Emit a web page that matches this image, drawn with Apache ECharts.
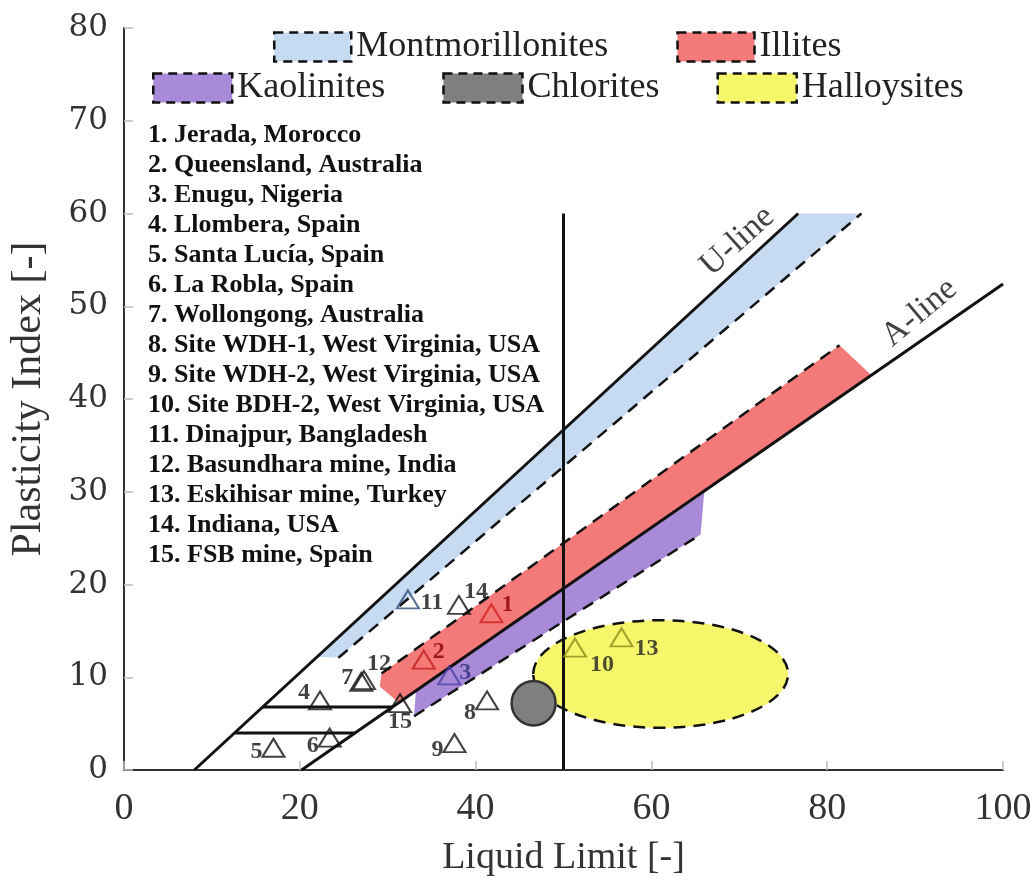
<!DOCTYPE html>
<html>
<head>
<meta charset="utf-8">
<script src="https://cdn.jsdelivr.net/npm/echarts@6/dist/echarts.min.js"></script>
<style>
  html, body { margin: 0; padding: 0; background: #fff; }
  #main { width: 1035px; height: 882px; }
</style>
</head>
<body>
<div id="main"></div>
<script>
// plasticity chart: sites plotted against clay mineral zones

var siteNames = [
  '1. Jerada, Morocco',
  '2. Queensland, Australia',
  '3. Enugu, Nigeria',
  '4. Llombera, Spain',
  '5. Santa Lucía, Spain',
  '6. La Robla, Spain',
  '7. Wollongong, Australia',
  '8. Site WDH-1, West Virginia, USA',
  '9. Site WDH-2, West Virginia, USA',
  '10. Site BDH-2, West Virginia, USA',
  '11. Dinajpur, Bangladesh',
  '12. Basundhara mine, India',
  '13. Eskihisar mine, Turkey',
  '14. Indiana, USA',
  '15. FSB mine, Spain'
]
var siteIds = ['1', '2', '3', '4', '5', '6', '7', '8', '9', '10', '11', '12', '13', '14', '15']
var siteLL = [41.8, 34.1, 37.0, 22.3, 17.0, 23.4, 27.0, 41.3, 37.6, 51.3, 32.3, 27.3, 56.6, 38.1, 31.4]
var sitePI = [16.9, 11.9, 10.2, 7.5, 2.4, 3.5, 9.5, 7.5, 2.9, 13.2, 18.4, 9.7, 14.3, 17.8, 7.2]

// reference lines [LL, PI]
var uLine = [[8, 0], [76.7, 60]]
var aLine = [[20.2, 0], [100, 52.4]]
var ll50Line = [[50, 0], [50, 60]]
var pi7Line = [[15.8, 6.8], [30.6, 6.8]]
var pi4Line = [[12.6, 4.0], [26.3, 4.0]]

// mineral zones
var montArea = [[22.0, 12.2], [76.7, 60], [83.9, 60], [24.4, 12.1]]
var montDash = [[24.4, 12.1], [83.9, 60]]
var illiteArea = [[29.3, 10.4], [81.4, 45.8], [85.0, 42.6], [31.2, 7.3], [29.1, 9.0]]
var illiteDash = [[29.3, 10.4], [81.4, 45.8]]
var kaolArea = [[33.2, 8.4], [66.0, 29.9], [65.6, 25.4], [33.0, 5.8]]
var kaolDash = [[33.0, 5.8], [65.6, 25.4]]
var chloriteZone = [46.6, 7.2, 2.5, 2.4]      // centre LL, centre PI, half width, half height
var halloysiteZone = [61.05, 10.35, 14.5, 5.8]

var lineLabels = ['U-line', 'A-line']
var lineLabelPos = [[69.8, 57.0], [90.5, 49.3]]

var xTicks = [0, 20, 40, 60, 80, 100]
var yTicks = [0, 10, 20, 30, 40, 50, 60, 70, 80]

// styling
var serif = '"Liberation Serif", "Times New Roman", serif'
var zoneColors = {
  Montmorillonites: '#c6dbf1',
  Illites: '#f47a7a',
  Kaolinites: '#a98ad8',
  Chlorites: '#7f7f7f',
  Halloysites: '#f6f66b'
}
var triColors = ['#d42020', '#c41e1e', '#4a3fa8', '#111', '#111', '#111', '#111', '#111', '#111',
  '#8c8c1a', '#2e4e7e', '#111', '#8c8c1a', '#111', '#111']
var numColors = ['#8b0000', '#8b0000', '#30307a', '#111', '#111', '#111', '#111', '#111', '#111',
  '#222', '#111', '#111', '#222', '#111', '#111']
var numOffset = [[16, -8], [15, -8], [16, -3], [-16, -8], [-17, 4], [-17, 8], [-14, -4], [-17, 12],
  [-17, 7], [27, 17], [24, 3], [15, -16], [25, 11], [17, -13], [0, 19]]

function areaSeries(name, pts, z) {
  return {
    name: name,
    type: 'custom',
    z: z,
    silent: true,
    data: pts,
    renderItem: function (params, api) {
      if (params.dataIndex !== 0) return null
      var points = pts.map(function (p) { return api.coord(p) })
      return { type: 'polygon', shape: { points: points }, style: { fill: zoneColors[name] } }
    }
  }
}

function ovalSeries(name, zone, z, stroke, dash) {
  return {
    name: name,
    type: 'custom',
    z: z,
    silent: true,
    data: [[zone[0], zone[1]]],
    renderItem: function (params, api) {
      var c = api.coord([zone[0], zone[1]])
      var rx = api.size([zone[2], 0])[0]
      var ry = api.size([0, zone[3]])[1]
      return {
        type: 'ellipse',
        shape: { cx: c[0], cy: c[1], rx: rx, ry: ry },
        style: { fill: zoneColors[name], stroke: stroke, lineWidth: 2.5, lineDash: dash }
      }
    }
  }
}

function lineSeries(pts, dashed, z) {
  return {
    type: 'line',
    z: z,
    silent: true,
    symbol: 'none',
    data: pts,
    lineStyle: { color: '#111', width: dashed ? 2.5 : 3, type: dashed ? [12, 8] : 'solid' }
  }
}

var siteData = siteLL.map(function (x, i) {
  return {
    name: siteIds[i],
    value: [x, sitePI[i]],
    itemStyle: { color: 'rgba(0,0,0,0)', borderColor: triColors[i], borderWidth: 2 },
    label: { offset: numOffset[i], color: numColors[i] }
  }
})

function legendItem(name) {
  return {
    name: name,
    icon: 'rect',
    itemStyle: { color: zoneColors[name], borderColor: '#111', borderWidth: 2.5, borderType: [9, 6] }
  }
}

var legendText = { fontFamily: serif, fontSize: 36, color: '#222' }

var option = {
  animation: false,
  backgroundColor: '#fff',
  grid: { left: 122, right: 32, top: 28, bottom: 112 },
  legend: [{
    left: 273, top: 29, padding: 0, itemGap: 68, itemWidth: 77, itemHeight: 29,
    selectedMode: false, textStyle: legendText,
    data: [legendItem('Montmorillonites'), legendItem('Illites')]
  }, {
    left: 152, top: 70, padding: 0, itemGap: 57, itemWidth: 79, itemHeight: 29,
    selectedMode: false, textStyle: legendText,
    data: [legendItem('Kaolinites'), legendItem('Chlorites'), legendItem('Halloysites')]
  }],
  xAxis: [{
    type: 'value', min: 0, max: 100, interval: 20,
    name: 'Liquid Limit [-]', nameLocation: 'middle', nameGap: 69,
    nameTextStyle: { fontFamily: serif, fontSize: 38, color: '#333' },
    axisLine: { lineStyle: { color: '#bdbdbd', width: 1.5 } },
    axisTick: { inside: true, length: 9, lineStyle: { color: '#bdbdbd', width: 1.5 } },
    axisLabel: { margin: 20, fontFamily: serif, fontSize: 38, color: '#333',
      formatter: function (v) { return xTicks.indexOf(v) >= 0 ? String(v) : '' } },
    splitLine: { show: false }
  }, {
    type: 'value', min: 0, max: 100, position: 'top',
    axisLine: { lineStyle: { color: '#333', width: 2 } },
    axisTick: { show: false }, axisLabel: { show: false }, splitLine: { show: false }
  }],
  yAxis: [{
    type: 'value', min: 0, max: 80, interval: 10,
    name: 'Plasticity Index [-]', nameLocation: 'middle', nameGap: 74,
    nameTextStyle: { fontFamily: serif, fontSize: 42, color: '#333' },
    axisLine: { show: true, lineStyle: { color: '#bdbdbd', width: 1.5 } },
    axisTick: { show: true, inside: true, length: 9, lineStyle: { color: '#bdbdbd', width: 1.5 } },
    axisLabel: { margin: 16, fontFamily: '"DejaVu Serif", serif', fontSize: 31, color: '#333',
      formatter: function (v) { return yTicks.indexOf(v) >= 0 ? String(v) : '' } },
    splitLine: { show: false }
  }, {
    type: 'value', min: 0, max: 80, position: 'right',
    axisLine: { show: true, lineStyle: { color: '#333', width: 2 } },
    axisTick: { show: false }, axisLabel: { show: false }, splitLine: { show: false }
  }],
  graphic: [{
    type: 'text', left: 148, top: 120, z: 10,
    style: {
      text: siteNames.join('\n'),
      font: 'bold 26px ' + serif,
      lineHeight: 30,
      fill: '#111'
    }
  }],
  series: [
    areaSeries('Montmorillonites', montArea, 1),
    areaSeries('Illites', illiteArea, 1),
    areaSeries('Kaolinites', kaolArea, 1),
    ovalSeries('Halloysites', halloysiteZone, 2, '#111', [12, 8]),
    ovalSeries('Chlorites', chloriteZone, 3, '#333', null),
    lineSeries(montDash, true, 4),
    lineSeries(illiteDash, true, 4),
    lineSeries(kaolDash, true, 4),
    lineSeries(uLine, false, 5),
    lineSeries(aLine, false, 5),
    lineSeries(ll50Line, false, 5),
    lineSeries(pi7Line, false, 5),
    lineSeries(pi4Line, false, 5),
    {
      type: 'scatter', z: 6, silent: true, symbolSize: 0,
      data: lineLabels.map(function (n, i) { return { name: n, value: lineLabelPos[i] } }),
      label: {
        show: true, position: 'inside', formatter: '{b}',
        fontFamily: serif, fontSize: 34, color: '#111'
      },
      labelLayout: function (params) {
        return { rotate: params.dataIndex === 0 ? 42 : 40 }
      }
    },
    {
      name: 'Sites', type: 'scatter', z: 7, silent: true,
      symbol: 'triangle', symbolSize: [22, 18],
      data: siteData,
      label: {
        show: true, position: 'inside', formatter: '{b}',
        fontFamily: serif, fontWeight: 'bold', fontSize: 24
      }
    }
  ]
}

var myChart = echarts.init(document.getElementById('main'))
myChart.setOption(option)
</script>
</body>
</html>
